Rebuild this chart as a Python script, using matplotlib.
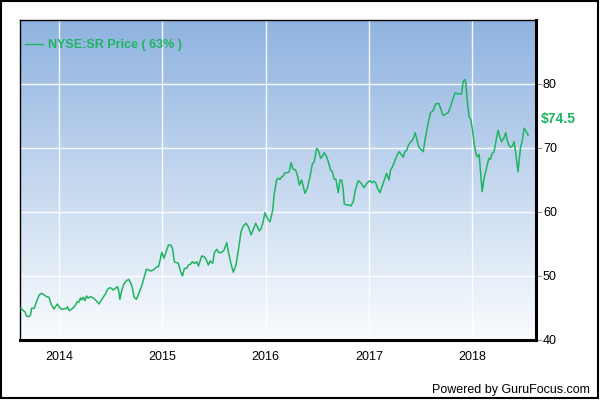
import numpy as np
import matplotlib
matplotlib.use("Agg")
import matplotlib.pyplot as plt

plt.rcParams['font.family'] = ['Liberation Sans', 'DejaVu Sans']

# weekly-ish closing prices, decimal years
years = [2013.629, 2013.651, 2013.668, 2013.683, 2013.707, 2013.722, 2013.732, 2013.758, 2013.780, 2013.806,
         2013.829, 2013.855, 2013.877, 2013.900, 2013.925, 2013.949, 2013.968, 2013.984, 2013.997, 2014.022,
         2014.048, 2014.071, 2014.080, 2014.097, 2014.119, 2014.152, 2014.174, 2014.191, 2014.206, 2014.216,
         2014.232, 2014.249, 2014.264, 2014.281, 2014.297, 2014.319, 2014.346, 2014.368, 2014.387, 2014.404,
         2014.426, 2014.448, 2014.468, 2014.491, 2014.506, 2014.523, 2014.545, 2014.564, 2014.578, 2014.588,
         2014.603, 2014.626, 2014.652, 2014.675, 2014.694, 2014.710, 2014.726, 2014.748, 2014.772, 2014.797,
         2014.820, 2014.845, 2014.864, 2014.891, 2014.920, 2014.946, 2014.961, 2014.978, 2014.994, 2015.016,
         2015.036, 2015.058, 2015.081, 2015.097, 2015.116, 2015.139, 2015.155, 2015.171, 2015.194, 2015.213,
         2015.236, 2015.252, 2015.275, 2015.290, 2015.310, 2015.333, 2015.349, 2015.365, 2015.381, 2015.404,
         2015.423, 2015.445, 2015.462, 2015.488, 2015.503, 2015.527, 2015.549, 2015.575, 2015.597, 2015.623,
         2015.639, 2015.662, 2015.687, 2015.713, 2015.736, 2015.762, 2015.784, 2015.810, 2015.833, 2015.859,
         2015.881, 2015.904, 2015.920, 2015.939, 2015.953, 2015.972, 2015.994, 2016.016, 2016.043, 2016.069,
         2016.084, 2016.107, 2016.123, 2016.139, 2016.156, 2016.171, 2016.188, 2016.214, 2016.229, 2016.246,
         2016.268, 2016.291, 2016.311, 2016.326, 2016.349, 2016.365, 2016.381, 2016.404, 2016.430, 2016.452,
         2016.471, 2016.495, 2016.510, 2016.533, 2016.553, 2016.568, 2016.591, 2016.607, 2016.630, 2016.646,
         2016.665, 2016.681, 2016.704, 2016.720, 2016.737, 2016.752, 2016.762, 2016.785, 2016.810, 2016.827,
         2016.849, 2016.865, 2016.875, 2016.897, 2016.921, 2016.953, 2016.979, 2017.011, 2017.033, 2017.049,
         2017.069, 2017.085, 2017.107, 2017.134, 2017.156, 2017.172, 2017.195, 2017.211, 2017.230, 2017.253,
         2017.275, 2017.294, 2017.318, 2017.333, 2017.349, 2017.366, 2017.381, 2017.398, 2017.420, 2017.437,
         2017.449, 2017.463, 2017.485, 2017.504, 2017.527, 2017.550, 2017.575, 2017.598, 2017.623, 2017.647,
         2017.679, 2017.698, 2017.720, 2017.746, 2017.769, 2017.792, 2017.817, 2017.836, 2017.860, 2017.898,
         2017.914, 2017.930, 2017.940, 2017.956, 2017.972, 2017.988, 2018.005, 2018.020, 2018.043, 2018.056,
         2018.069, 2018.082, 2018.098, 2018.117, 2018.140, 2018.163, 2018.179, 2018.195, 2018.214, 2018.237,
         2018.253, 2018.269, 2018.286, 2018.308, 2018.327, 2018.340, 2018.356, 2018.373, 2018.392, 2018.408,
         2018.424, 2018.446, 2018.470, 2018.485, 2018.505, 2018.521, 2018.543]
prices = [44.95, 44.58, 44.42, 43.75, 43.64, 43.91, 44.95, 44.95, 45.98, 47.03,
          47.30, 47.03, 46.77, 46.67, 45.47, 44.84, 45.31, 45.63, 45.20, 44.80,
          44.89, 44.89, 45.20, 44.58, 44.80, 45.31, 45.98, 45.94, 46.56, 46.25,
          46.67, 46.14, 46.88, 46.52, 46.77, 46.67, 46.36, 45.98, 45.63, 46.14,
          46.67, 47.19, 47.92, 48.17, 48.08, 47.81, 48.08, 48.33, 47.55, 46.36,
          47.55, 48.75, 49.27, 49.48, 48.86, 48.08, 46.67, 46.36, 47.30, 48.33,
          49.64, 51.05, 50.94, 50.78, 51.05, 51.45, 51.45, 52.50, 53.70, 52.77,
          53.80, 54.84, 54.84, 54.33, 52.23, 52.08, 51.98, 50.94, 50.00, 51.20,
          51.20, 51.72, 51.88, 52.23, 51.98, 52.23, 51.56, 52.34, 53.13, 53.02,
          52.61, 51.72, 52.34, 51.98, 53.64, 54.17, 53.64, 53.70, 54.06, 55.20,
          53.80, 52.08, 50.58, 51.72, 54.06, 56.92, 57.86, 58.23, 57.70, 56.41,
          57.30, 58.23, 57.70, 57.03, 57.30, 58.23, 59.89, 59.02, 58.48, 60.31,
          62.92, 65.00, 65.27, 65.11, 65.52, 65.63, 66.14, 66.14, 66.30, 67.70,
          66.67, 66.56, 65.52, 64.22, 65.00, 63.95, 62.92, 63.70, 65.52, 67.45,
          67.86, 69.95, 69.69, 68.39, 68.75, 69.27, 68.64, 67.86, 66.56, 66.30,
          65.11, 65.11, 63.02, 65.00, 65.00, 63.44, 61.25, 61.09, 61.09, 60.94,
          61.61, 63.02, 63.70, 64.89, 64.58, 63.80, 64.48, 64.89, 64.58, 64.84,
          64.48, 63.70, 63.02, 64.22, 65.27, 66.05, 65.00, 66.56, 67.08, 68.02,
          68.91, 69.42, 68.91, 68.55, 69.42, 69.58, 70.31, 70.83, 71.14, 71.77,
          72.39, 71.52, 70.11, 69.80, 69.42, 71.77, 73.86, 75.52, 75.83, 76.88,
          76.98, 76.05, 75.08, 75.31, 75.52, 76.45, 77.77, 78.64, 78.44, 78.44,
          80.36, 80.73, 80.11, 76.98, 74.80, 74.48, 72.81, 70.73, 68.75, 68.64,
          69.02, 66.30, 63.17, 65.27, 66.83, 68.39, 68.23, 69.17, 69.42, 71.52,
          72.81, 71.77, 70.98, 71.52, 72.39, 71.25, 70.47, 70.11, 70.31, 70.98,
          69.17, 66.30, 70.11, 70.98, 73.08, 72.70, 72.03]

year_ticks = [2014, 2015, 2016, 2017, 2018]
price_ticks = [40, 50, 60, 70, 80]
legend_label = "NYSE:SR Price ( 63% )"
last_label = "$74.5"
last_value = 74.5

green = '#1eb560'

fig = plt.figure(figsize=(6, 4), dpi=100)
ax = fig.add_axes([20 / 600, 60 / 400, 516 / 600, 320 / 400])

# vertical gradient background
grad = np.linspace(0, 1, 256).reshape(-1, 1)
cmap = matplotlib.colors.LinearSegmentedColormap.from_list('bg', ['#fafcfe', '#8fb3e0'])
ax.imshow(grad, aspect='auto', cmap=cmap, origin='lower',
          extent=[0, 1, 0, 1], transform=ax.transAxes, zorder=0)

ax.plot(years, prices, color=green, lw=1.1, zorder=3)

ax.set_xlim(2013.62, 2018.62)
ax.set_ylim(40, 90)
ax.set_xticks(year_ticks)
ax.set_xticklabels([str(y) for y in year_ticks])
ax.set_yticks(price_ticks)
ax.yaxis.tick_right()
ax.grid(True, color='white', lw=1, alpha=0.9, zorder=1)
ax.tick_params(axis='x', length=0, pad=8, labelsize=9)
ax.tick_params(axis='y', length=4, color='#999999', pad=1, labelsize=9)

for side in ['left', 'top']:
    ax.spines[side].set_linewidth(1)
for side in ['right', 'bottom']:
    ax.spines[side].set_linewidth(2.2)

ax.plot([], [], color=green, lw=1, label=legend_label)
leg = ax.legend(loc='upper left', frameon=False, handlelength=1.4, handletextpad=0.45,
                bbox_to_anchor=(0.0, 0.955), borderaxespad=0,
                prop={'weight': 'bold', 'size': 9})
for t in leg.get_texts():
    t.set_color(green)

ax.text(1.01, last_value, last_label, transform=ax.get_yaxis_transform(),
        color=green, fontsize=10, fontweight='bold', va='center', ha='left')

fig.text(0.983, 0.025, "Powered by GuruFocus.com", ha='right', va='center', fontsize=9)

fig.patches.append(plt.Rectangle((0.002, 0.004), 0.995, 0.993, transform=fig.transFigure,
                                 fill=False, edgecolor='black', lw=1.5))

fig.savefig('out.png', dpi=100)
